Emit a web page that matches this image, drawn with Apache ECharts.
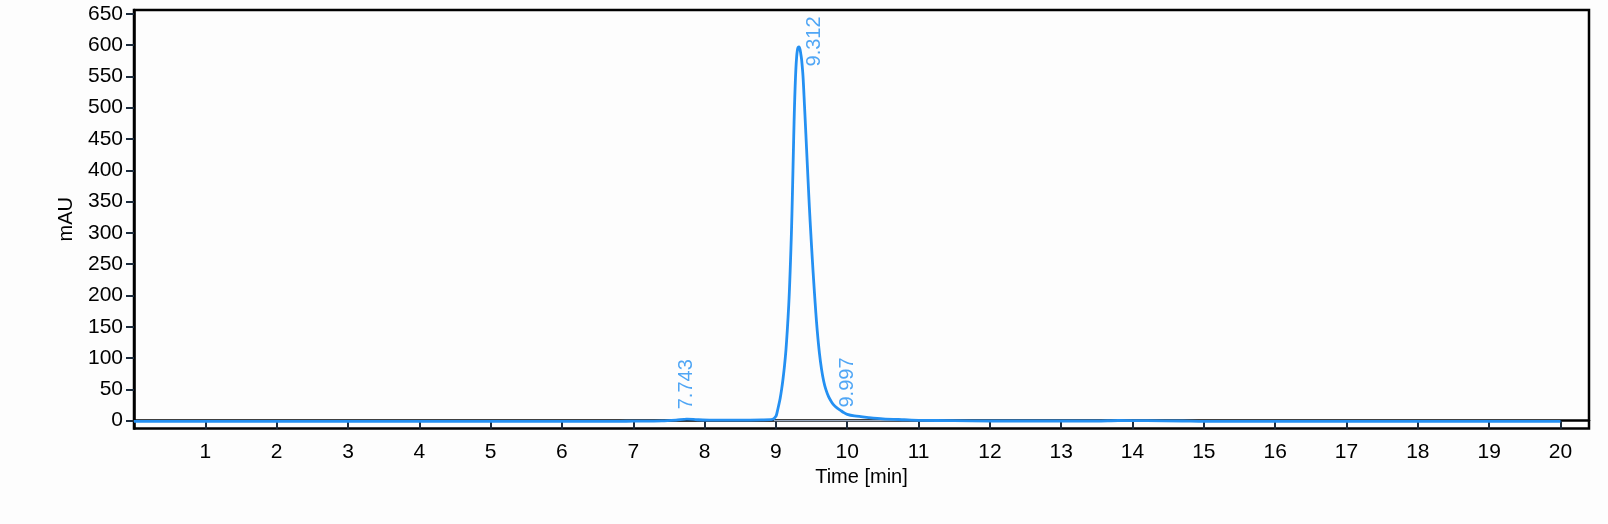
<!DOCTYPE html>
<html>
<head>
<meta charset="utf-8">
<script src="https://cdn.jsdelivr.net/npm/echarts@6/dist/echarts.min.js"></script>
<style>
  html, body { margin: 0; padding: 0; background: #fff; }
  #main { width: 1608px; height: 524px; }
</style>
</head>
<body>
<div id="main"></div>
<script>
// chromatogram trace
var times = [0, 1, 2, 3, 4, 5, 6, 6.8, 7.0, 7.4, 7.6, 7.75, 7.9, 8.1, 8.5, 8.8, 8.95,
  9.0, 9.02, 9.04, 9.06, 9.08, 9.1, 9.12, 9.14, 9.16, 9.18, 9.19, 9.2, 9.21, 9.22,
  9.23, 9.24, 9.25, 9.26, 9.27, 9.28, 9.29, 9.3, 9.31, 9.32, 9.33, 9.34, 9.35, 9.36,
  9.38, 9.4, 9.42, 9.44, 9.46, 9.48, 9.5, 9.52, 9.54, 9.56, 9.58, 9.61, 9.64, 9.67,
  9.7, 9.74, 9.78, 9.82, 9.86, 9.9, 9.95, 10.0, 10.1, 10.3, 10.5, 10.8, 11.0, 11.5,
  12.0, 13.5, 13.8, 14.2, 14.7, 15, 20];
var mAU = [-1, -1, -1, -1, -1, -1, -1, -1, -0.8, -0.3, 1, 2.5, 1.5, 0.8, 1, 1.3, 2,
  7, 15, 25, 36, 50, 67, 87, 112, 145, 185, 210, 240, 273, 310,
  355, 405, 455, 500, 535, 562, 580, 591, 596, 597, 596, 592, 585, 577,
  550, 505, 458, 410, 362, 318, 278, 240, 205, 172, 143, 108, 82, 63,
  50, 38, 30, 24, 20, 17, 13, 10, 7.5, 5, 3, 1.5, 0.6, 0,
  -0.5, -0.5, 0.3, 0, -0.5, -1, -1];

// integration baseline under the main peak
var baseTimes = [8.97, 11.2];
var baseVals = [0, 0];

// peak retention time labels
var peakTimes = [7.743, 9.312, 9.997];
var peakHeights = [3, 597, 9];
var peakNames = ['7.743', '9.312', '9.997'];

var xTicks = [];
for (var i = 1; i <= 20; i++) xTicks.push(i);
var yTicks = [];
for (var v = 0; v <= 650; v += 50) yTicks.push(v);

var blue = '#2490f2';
var font = "'Liberation Sans', Arial, sans-serif";

var myChart = echarts.init(document.getElementById('main'));

var labelOffsets = [[0, 0], [-20, 16], [0, 0]];
var labelDist = [9, 0, 7];

myChart.setOption({
  animation: false,
  backgroundColor: '#fdfdfd',
  grid: {
    left: 134, right: 19, top: 10, bottom: 95.5,
    show: true, borderColor: '#000', borderWidth: 2.5,
    containLabel: false
  },
  xAxis: {
    type: 'value',
    min: 0, max: 20.4,
    name: 'Time [min]',
    nameLocation: 'middle',
    nameGap: 37,
    nameTextStyle: { fontFamily: font, fontSize: 20, color: '#000' },
    axisLine: { show: true, lineStyle: { color: '#000', width: 2.5 } },
    axisTick: { show: true, customValues: xTicks, length: 8, lineStyle: { color: '#1c2b3c', width: 2 } },
    axisLabel: { customValues: xTicks, fontFamily: font, fontSize: 21, color: '#000', margin: 13 },
    splitLine: { show: false }
  },
  yAxis: {
    type: 'value',
    min: -12.5, max: 656,
    name: 'mAU',
    nameLocation: 'middle',
    nameGap: 58,
    nameTextStyle: { fontFamily: font, fontSize: 20, color: '#000' },
    axisLine: { show: true, lineStyle: { color: '#000', width: 2.5 } },
    axisTick: { show: true, customValues: yTicks, length: 8, lineStyle: { color: '#1c2b3c', width: 2 } },
    axisLabel: { customValues: yTicks, fontFamily: font, fontSize: 21, color: '#000', margin: 11 },
    splitLine: { show: false }
  },
  series: [
    {
      name: 'baseline',
      type: 'line',
      data: baseTimes.map(function (t, i) { return [t, baseVals[i]]; }),
      symbol: 'none',
      lineStyle: { color: '#b9cde6', width: 1 },
      z: 1
    },
    {
      name: 'signal',
      type: 'line',
      data: times.map(function (t, i) { return [t, mAU[i]]; }),
      symbol: 'none',
      smooth: 0.3,
      lineStyle: { color: blue, width: 2.8 },
      z: 2
    },
    {
      name: 'peaks',
      type: 'scatter',
      symbolSize: 1,
      itemStyle: { color: 'rgba(0,0,0,0)' },
      data: peakTimes.map(function (t, i) {
        return {
          value: [t, peakHeights[i]],
          label: { offset: labelOffsets[i], distance: labelDist[i] }
        };
      }),
      label: {
        show: true,
        position: 'top',
        rotate: 90,
        align: 'left',
        verticalAlign: 'middle',
        color: blue,
        fontFamily: font,
        fontSize: 20,
        formatter: function (p) { return peakNames[p.dataIndex]; }
      },
      z: 3
    }
  ]
});
</script>
</body>
</html>
